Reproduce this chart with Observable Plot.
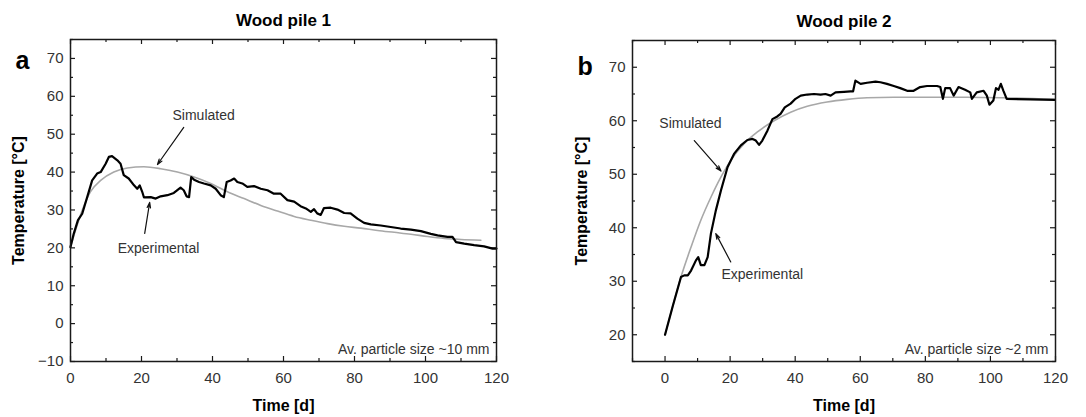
<!DOCTYPE html>
<html>
<head>
<meta charset="utf-8">
<script src="https://cdn.jsdelivr.net/npm/d3@7"></script>
<script src="https://cdn.jsdelivr.net/npm/@observablehq/plot@0.6"></script>
<style>
  html, body { margin: 0; padding: 0; background: #fff; }
  #row { display: flex; width: 1086px; height: 417px; }
  svg { font-family: "Liberation Sans", Arial, sans-serif; }
</style>
</head>
<body>
<div id="row"></div>
<script>
// ---------- Panel a: Wood pile 1 ----------
const expA_t = [0,0.9,2.1,3.3,4.7,6.1,7.5,8.5,9.9,10.8,11.7,13.2,14.1,15.0,16.4,17.9,18.8,19.5,20.2,20.7,22.6,24,25.4,27.3,29.1,31,31.9,32.7,33.4,34,34.8,36.2,37.6,39.5,40.9,42.3,43.2,44,45.1,46.1,47,48.4,49.8,51.7,53.6,55.5,57.3,59.2,61.1,63,64.8,66.3,67.7,68.6,69.5,70.5,71.4,73.3,75.2,77.1,78.9,80.8,82.7,84.6,87.4,90.2,93.0,95.9,98.7,101.5,103.4,106.2,107.6,108.6,110.9,113.7,116.5,118.9,120];
const expA_T = [20.2,23.7,27.3,29,33.4,37.8,39.6,40,42.2,44,44.2,43.1,42.2,39.2,38.3,36.5,35.6,36.5,34.8,33.3,33.4,33,33.6,33.9,34.5,35.9,35.2,33.6,33.4,38.7,38,37.4,37,36.5,35.6,33.9,33.4,37.4,37.8,38.3,37.4,37,36.1,36.3,35.6,35.2,34.3,34.3,32.6,32.2,31,30.4,29.5,30.2,29.1,28.7,30.5,30.6,30.1,29.2,29.1,27.7,26.6,26.2,25.9,25.5,25.1,24.8,24.4,23.7,23.3,22.9,22.9,21.5,21.1,20.7,20.4,19.8,19.8];
const simA_t = [0,1.4,3.3,5.6,8.5,12.2,16,20.7,25.4,30.1,34.8,39.5,44.2,48.9,53.6,58.3,63,67.7,72.4,77.1,81.8,86.5,91.2,95.9,100.6,105.3,110,115.6];
const simA_T = [20.2,24.6,29.9,34.8,37.8,40,41.1,41.4,40.9,40,38.7,37,34.8,33,31.2,29.7,28.3,27.3,26.4,25.7,25.2,24.6,24.1,23.6,23.0,22.5,22.2,22];

// ---------- Panel b: Wood pile 2 ----------
const expB_t = [0,2.3,4.9,5.9,7,8,9.5,10.2,11,12.1,13.1,14.1,15.6,17.2,19.2,21.2,23.3,25.3,26.9,27.9,28.9,29.9,31.5,33,34.5,35.5,36.8,38.6,40.1,41.7,43.7,45.8,47.8,49.3,50.9,52.4,55,57,57.8,58.5,60.1,62.1,64.7,66.2,68.2,70.3,72.3,74.4,76.4,78.4,80.5,83.6,84.6,85.4,86.1,87.6,88.7,90.2,92.2,93.8,94.3,95.8,97.9,98.9,99.7,100.9,101.7,102.5,103.2,104,105,112.2,119.8];
const expB_T = [20,25.2,30.8,31.1,31.1,32,33.9,34.5,33,33,34.5,38.9,43.2,47,51.3,53.8,55.4,56.4,56.6,56.3,55.5,56.3,58.2,60.3,60.8,61.3,62.5,63.2,64.1,64.7,64.9,65,64.9,65,64.7,65.3,65.4,65.5,65.5,67.5,66.9,67.1,67.3,67.2,66.9,66.5,66.1,65.6,65.6,66.3,66.5,66.5,66.3,64.1,66.1,66.1,64.7,66.3,65.8,65.3,64.1,65.3,65.6,64.7,63,63.8,66.1,65.8,66.9,65.6,64.1,64,63.9];
const simB_t = [0,2.3,4.9,8,11,14.1,17.2,20.2,24.3,28.4,33.5,38.6,43.7,49.8,56,62.1,70.3,81.5,92.7,104,119.8];
const simB_T = [20,25.2,30.8,36.4,41.4,45.7,49.5,52.6,55.7,57.9,60,61.6,62.7,63.5,64,64.3,64.4,64.4,64.4,64.3,64];

// ---------- Ticks ----------
const ticksA_xMajor = [0,20,40,60,80,100,120];
const ticksA_xMinor = [10,30,50,70,90,110];
const ticksA_yMajor = [-10,0,10,20,30,40,50,60,70];
const ticksA_yMinor = [-5,5,15,25,35,45,55,65,75];
const ticksB_xMajor = [0,20,40,60,80,100,120];
const ticksB_xMinor = [-10,10,30,50,70,90,110];
const ticksB_yMajor = [20,30,40,50,60,70];
const ticksB_yMinor = [15,25,35,45,55,65,75];

// ---------- Annotations ----------
const annA_text = [{x: 37.5, y: 55, text: "Simulated"}, {x: 24.8, y: 19.8, text: "Experimental"}];
const annA_arrows = [{x1: 31.9, y1: 51.8, x2: 24.5, y2: 42.0}, {x1: 20.9, y1: 23.8, x2: 22.3, y2: 32.0}];
const annB_text = [{x: 7.8, y: 59.5, text: "Simulated"}, {x: 29.9, y: 31.25, text: "Experimental"}];
const annB_arrows = [{x1: 9.0, y1: 56.3, x2: 17.2, y2: 50.6}, {x1: 20.2, y1: 33.6, x2: 15.6, y2: 38.9}];

const FONT = "Liberation Sans, Arial, sans-serif";
const ink = "#1a1a1a";
const txt = "#333";

function panel(o) {
  const W = 543, H = 417;
  const innerH = H - o.mt - o.mb;
  const innerW = W - o.ml - o.mr;
  const exp = o.expT.map((t, i) => ({t, T: o.expV[i]}));
  const sim = o.simT.map((t, i) => ({t, T: o.simV[i]}));
  return Plot.plot({
    width: W, height: H,
    marginLeft: o.ml, marginRight: o.mr, marginTop: o.mt, marginBottom: o.mb,
    style: {fontFamily: FONT, fontSize: "15px", color: txt, background: "#fff"},
    x: {domain: o.xDomain},
    y: {domain: o.yDomain},
    marks: [
      // inward ticks (all four sides)
      Plot.ruleX(o.xMajor, {insetTop: innerH - 5, stroke: ink, strokeWidth: 1.2}),
      Plot.ruleX(o.xMinor, {insetTop: innerH - 3, stroke: ink, strokeWidth: 1.2}),
      Plot.ruleX(o.xMajor, {insetBottom: innerH - 5, stroke: ink, strokeWidth: 1.2}),
      Plot.ruleX(o.xMinor, {insetBottom: innerH - 3, stroke: ink, strokeWidth: 1.2}),
      Plot.ruleY(o.yMajor, {insetRight: innerW - 5, stroke: ink, strokeWidth: 1.2}),
      Plot.ruleY(o.yMinor, {insetRight: innerW - 3, stroke: ink, strokeWidth: 1.2}),
      Plot.ruleY(o.yMajor, {insetLeft: innerW - 5, stroke: ink, strokeWidth: 1.2}),
      Plot.ruleY(o.yMinor, {insetLeft: innerW - 3, stroke: ink, strokeWidth: 1.2}),
      Plot.axisX({ticks: o.xMajor, tickSize: 0, tickPadding: 11, label: null, fontSize: 15, fill: txt}),
      Plot.axisY({ticks: o.yMajor, tickSize: 0, tickPadding: 7, label: null, fontSize: 15, fill: txt}),
      // curves
      Plot.line(sim, {x: "t", y: "T", stroke: "#a8a8a8", strokeWidth: 1.6, curve: "monotone-x"}),
      Plot.line(exp, {x: "t", y: "T", stroke: "#000", strokeWidth: 2.2, strokeLinejoin: "round"}),
      // annotations
      Plot.arrow(o.arrows, {x1: "x1", y1: "y1", x2: "x2", y2: "y2", stroke: "#111", strokeWidth: 1.2, headLength: 7, headAngle: 35}),
      Plot.text(o.ann, {x: "x", y: "y", text: "text", fontSize: 14, fill: txt}),
      Plot.text([o.note], {frameAnchor: "bottom-right", dx: -7, dy: -12, lineAnchor: "middle", fontSize: 14, fill: txt}),
      // titles and labels
      Plot.text([o.title], {frameAnchor: "top", dy: -19, lineAnchor: "middle", fontSize: 17, fontWeight: "bold", fill: "#000"}),
      Plot.text([o.letter], {frameAnchor: "top-left", dx: o.letterDx, dy: o.letterDy, lineAnchor: "middle", fontSize: 25, fontWeight: "bold", fill: "#000"}),
      Plot.text(["Time [d]"], {frameAnchor: "bottom", dy: 44, lineAnchor: "middle", fontSize: 16, fontWeight: "bold", fill: "#000"}),
      Plot.text(["Temperature [°C]"], {frameAnchor: "left", dx: o.ylabDx, rotate: -90, textAnchor: "middle", lineAnchor: "middle", fontSize: 16, fontWeight: "bold", fill: "#000"}),
      Plot.frame({stroke: ink, strokeWidth: 1.5})
    ]
  });
}

const row = document.getElementById("row");
row.append(panel({
  ml: 70, mr: 47, mt: 39, mb: 56,
  xDomain: [0, 120], yDomain: [-10, 75],
  xMajor: ticksA_xMajor, xMinor: ticksA_xMinor, yMajor: ticksA_yMajor, yMinor: ticksA_yMinor,
  expT: expA_t, expV: expA_T, simT: simA_t, simV: simA_T,
  ann: annA_text, arrows: annA_arrows,
  note: "Av. particle size ~10 mm", title: "Wood pile 1", letter: "a",
  letterDx: -55, letterDy: 21, ylabDx: -52
}));
row.append(panel({
  ml: 89, mr: 31, mt: 40, mb: 56,
  xDomain: [-10, 120], yDomain: [15, 75],
  xMajor: ticksB_xMajor, xMinor: ticksB_xMinor, yMajor: ticksB_yMajor, yMinor: ticksB_yMinor,
  expT: expB_t, expV: expB_T, simT: simB_t, simV: simB_T,
  ann: annB_text, arrows: annB_arrows,
  note: "Av. particle size ~2 mm", title: "Wood pile 2", letter: "b",
  letterDx: -55, letterDy: 26, ylabDx: -51
}));
</script>
</body>
</html>
